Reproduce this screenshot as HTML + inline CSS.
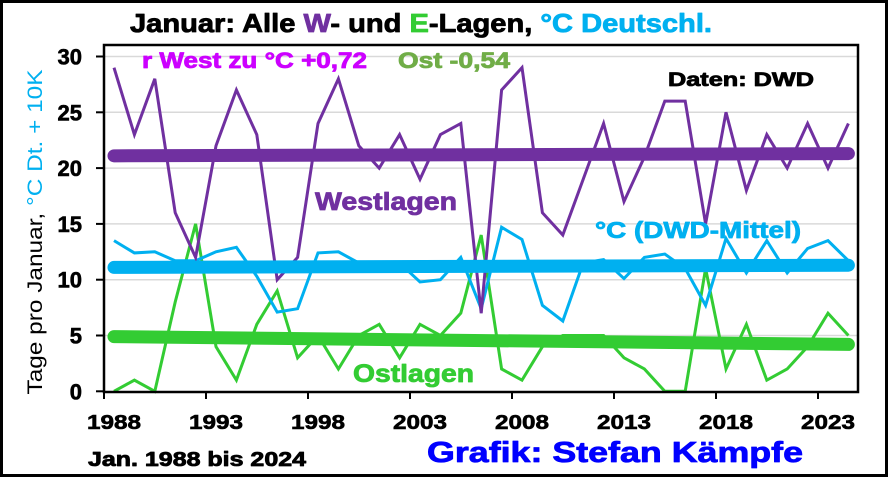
<!DOCTYPE html>
<html><head><meta charset="utf-8"><style>
body{margin:0;background:#fff}
svg{display:block;font-family:"Liberation Sans",Arial,sans-serif;font-weight:bold}
text.h{stroke-width:0.8px;stroke-linejoin:round}
</style></head><body>
<svg id="chart" width="889" height="478" viewBox="0 0 889 478" xmlns="http://www.w3.org/2000/svg">
<rect x="1.5" y="1.5" width="885" height="474" fill="#fff" stroke="#000" stroke-width="3"/>
<g id="grid"></g>
<g id="series"></g>
<rect x="104" y="45" width="754" height="347" fill="none" stroke="#000" stroke-width="2.5"/>
<g id="axes"></g>
<text class="h" stroke="#000" x="130" y="32" font-size="26" textLength="582" lengthAdjust="spacingAndGlyphs">Januar: Alle <tspan fill="#7030a0" stroke="#7030a0">W</tspan>- und <tspan fill="#33cc33" stroke="#33cc33">E</tspan>-Lagen, <tspan fill="#00b0f0" stroke="#00b0f0">°C Deutschl.</tspan></text>
<text class="h" stroke="#cc00ff" x="142" y="68" font-size="22" fill="#cc00ff" textLength="225" lengthAdjust="spacingAndGlyphs">r West zu °C +0,72</text>
<text class="h" stroke="#70ad47" x="398" y="68" font-size="22" fill="#70ad47" textLength="112" lengthAdjust="spacingAndGlyphs">Ost -0,54</text>
<text class="h" stroke="#000" x="668" y="86" font-size="19" fill="#000" textLength="146" lengthAdjust="spacingAndGlyphs">Daten: DWD</text>
<text class="h" stroke="#7030a0" x="315" y="210" font-size="25" fill="#7030a0" textLength="142" lengthAdjust="spacingAndGlyphs">Westlagen</text>
<text class="h" stroke="#00b0f0" x="595" y="238" font-size="23" fill="#00b0f0" textLength="206" lengthAdjust="spacingAndGlyphs">°C (DWD-Mittel)</text>
<text class="h" stroke="#33cc33" x="353" y="382" font-size="25" fill="#33cc33" textLength="121" lengthAdjust="spacingAndGlyphs">Ostlagen</text>
<text class="h" stroke="#000" x="88" y="466" font-size="20" fill="#000" textLength="218" lengthAdjust="spacingAndGlyphs">Jan. 1988 bis 2024</text>
<text class="h" stroke="#0000ff" x="427" y="462" font-size="29" fill="#0000ff" textLength="376" lengthAdjust="spacingAndGlyphs">Grafik: Stefan Kämpfe</text>
<text transform="translate(42,232) rotate(-90)" font-size="21" text-anchor="middle" font-weight="normal" textLength="325" lengthAdjust="spacingAndGlyphs">Tage pro Januar, <tspan fill="#00b0f0">°C Dt. + 10K</tspan></text>
</svg>
<script>
const years=[];for(let y=1988;y<=2024;y++)years.push(y);
const west=[29,23,28,16,12,22,27,23,10,12,24,28,22,20,23,19,23,24,7,27,29,16,14,19,24,17,21,26,26,15,25,18,23,20,24,20,24];
const ost=[0,1,0,8,15,4,1,6,9,3,5,2,5,6,3,6,5,7,14,2,1,4,5,5,5,3,2,0,0,11,2,6,1,2,4,7,5];
const temp=[13.5,12.4,12.5,11.7,11.7,12.5,12.9,10.3,7.1,7.4,12.4,12.5,11.5,11.5,11.5,9.8,10.0,12.0,7.4,14.7,13.6,7.7,6.3,11.5,11.8,10.1,12.0,12.3,11.0,7.7,13.7,10.6,13.5,10.6,12.8,13.5,11.7];
const westTrend=[21.1,21.3];
const tempTrend=[11.1,11.3];
const ostTrend=[4.9,4.2];
const yTicks=[0,5,10,15,20,25,30];
const xTickLabels=[1988,1993,1998,2003,2008,2013,2018,2023];
const NS='http://www.w3.org/2000/svg';
const x=i=>114+i*20.4;
const y=v=>391.3-v*11.16;
function mk(tag,attrs,parent){const e=document.createElementNS(NS,tag);for(const k in attrs)e.setAttribute(k,attrs[k]);parent.appendChild(e);return e;}
const grid=document.getElementById('grid'),axes=document.getElementById('axes'),ser=document.getElementById('series');
yTicks.forEach(v=>{
 if(v>0){const g=mk('line',{x1:104,x2:858,y1:y(v),y2:y(v),stroke:'#d9d9d9','stroke-width':1.5},grid);
 
 }
 const t=mk('line',{x1:96,x2:104,y1:y(v),y2:y(v),stroke:'#000','stroke-width':2},axes);
 
 
 const l=mk('text',{x:82,y:y(v)+8,'font-size':22,'text-anchor':'end',stroke:'#000','stroke-width':0.6},axes);l.textContent=v;
 
 
});
xTickLabels.forEach(yr=>{
 const i=yr-1988;
 const t=mk('line',{x1:x(i)-10,x2:x(i)-10,y1:392,y2:399,stroke:'#000','stroke-width':2},axes);
 
 
 const l=mk('text',{x:x(i),y:429,'font-size':20,'text-anchor':'middle',textLength:54,lengthAdjust:'spacingAndGlyphs',stroke:'#000','stroke-width':0.6},axes);l.textContent=yr;
 
 
});
function line(arr,color,w,name){
 const p=mk('polyline',{points:arr.map((v,i)=>x(i)+','+y(v)).join(' '),fill:'none',stroke:color,'stroke-width':w,'stroke-linejoin':'miter'},ser);
 
 
}
function trend(tr,color,name){
 const p=mk('line',{x1:x(0),x2:x(years.length-1),y1:y(tr[0]),y2:y(tr[1]),stroke:color,'stroke-width':13,'stroke-linecap':'round'},ser);
 
 
}
line(ost,'#33cc33',3,'ostlagen-line');
line(temp,'#00b0f0',3,'temperature-line');
line(west,'#7030a0',3,'westlagen-line');
trend(westTrend,'#7030a0','westlagen-trend');
trend(tempTrend,'#00b0f0','temperature-trend');
trend(ostTrend,'#33cc33','ostlagen-trend');
</script>
</body></html>
